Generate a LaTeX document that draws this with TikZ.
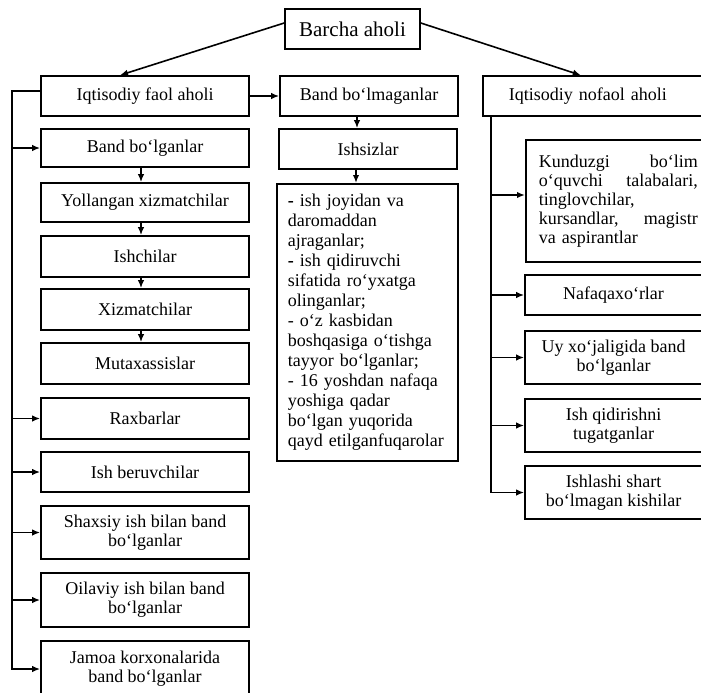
\documentclass[tikz,border=0pt]{standalone}
\usepackage{fontspec}
\setmainfont{Liberation Serif}
\usetikzlibrary{arrows.meta}

\begin{document}
\begin{tikzpicture}[x=0.5pt, y=-0.5pt, line width=0.8pt,
    every node/.style={font=\fontsize{9}{9.5}\selectfont},
    box/.style={draw, align=center, inner sep=2pt},
    lbox/.style={box, minimum width=104pt},
    rbox/.style={box, minimum width=88.5pt},
    arr/.style={-{Latex[length=4pt,width=3.2pt]}}]
  \useasboundingbox (0,0) rectangle (701,692);
  \clip (0,0) rectangle (701,692);

  % top level
  \node[box, minimum width=67.5pt, minimum height=20pt,
        font=\fontsize{10.5}{12}\selectfont] (barcha) at (352.5,29) {Barcha aholi};
  \node[lbox, minimum height=20pt] (faol) at (145,96) {Iqtisodiy faol aholi};
  \node[box, minimum width=89pt, minimum height=20pt] (bandm) at (369,96) {Band bo‘lmaganlar};
  \node[draw, anchor=west, text width=84pt, inner xsep=13pt, minimum height=20pt,
        align=left] (nofaol) at (482,96) {Iqtisodiy nofaol aholi};

  % faol aholi column
  \foreach \n/\yc/\h/\t in {bandb/148/19pt/Band bo‘lganlar,
      yollangan/202.5/19.5pt/Yollangan xizmatchilar,
      ishchi/256.5/20.5pt/Ishchilar,
      xizmat/309.5/20.5pt/Xizmatchilar,
      mutax/363.5/20.5pt/Mutaxassislar,
      raxbar/418.5/20.5pt/Raxbarlar,
      ishber/472/20pt/Ish beruvchilar,
      shaxsiy/532.5/26.5pt/{Shaxsiy ish bilan band\\bo‘lganlar},
      oilaviy/600/27pt/{Oilaviy ish bilan band\\bo‘lganlar},
      jamoa/669/28pt/{Jamoa korxonalarida\\band bo‘lganlar}}
    \node[lbox, minimum height=\h] (\n) at (145,\yc) {\t};

  % band bo'lmaganlar column
  \node[box, minimum width=89pt, minimum height=20pt] (ishsiz) at (368,149) {Ishsizlar};
  \node[draw, anchor=north west, text width=79.5pt, inner xsep=5.5pt, inner ysep=0pt,
        minimum height=138.5pt, align=left, font=\fontsize{9}{10}\selectfont]
    (royxat) at (276,183)
    {\textbf{-} ish joyidan va\\daromaddan\\ajraganlar;\\\textbf{-} ish qidiruvchi\\
     sifatida ro‘yxatga\\olinganlar;\\- o‘z kasbidan\\boshqasiga o‘tishga\\
     tayyor bo‘lganlar;\\- 16 yoshdan nafaqa\\yoshiga qadar\\bo‘lgan yuqorida\\
     qayd etilganfuqarolar};

  % nofaol aholi column
  \node[draw, anchor=west, text width=79.5pt, inner xsep=6.5pt,
        minimum height=61pt, align=left] (kunduz) at (525,201)
    {Kunduzgi\hfill bo‘lim\\o‘quvchi\hfill talabalari,\\tinglovchilar,\\
     kursandlar,\hfill magistr\\va aspirantlar};
  \node[rbox, minimum height=20pt] (nafaqa) at (613.5,295) {Nafaqaxo‘rlar};
  \foreach \n/\yc/\t in {uy/357.5/{Uy xo‘jaligida band\\bo‘lganlar},
      ishqid/425.5/{Ish qidirishni\\tugatganlar},
      ishlashi/492.5/{Ishlashi shart\\bo‘lmagan kishilar}}
    \node[rbox, minimum height=26.5pt] (\n) at (613.5,\yc) {\t};

  % connectors
  \coordinate (lbus) at (12,91);
  \coordinate (rbus) at (491,116);
  \draw[arr] ([yshift=3pt]barcha.west) -- ([xshift=-12.5pt]faol.north);
  \draw[arr] ([yshift=3pt]barcha.east) -- ([xshift=-6pt]nofaol.north);
  \draw[arr] (faol) -- (bandm);
  \draw[arr] ([xshift=-6pt]bandm.south) -- ([xshift=-6pt]bandm.south |- ishsiz.north);
  \draw[arr] ([xshift=-6pt]ishsiz.south) -- ([xshift=-6pt]ishsiz.south |- royxat.north);
  \foreach \a/\b in {bandb/yollangan,yollangan/ishchi,ishchi/xizmat,xizmat/mutax}
    \draw[arr] ([xshift=-2pt]\a.south) -- ([xshift=-2pt]\b.north);
  \draw[arr] ([yshift=2.5pt]faol.west) -| (lbus |- jamoa.west) -- (jamoa.west);
  \foreach \b in {bandb,raxbar,ishber,shaxsiy,oilaviy}
    \draw[arr] (lbus |- \b.west) -- (\b.west);
  \draw[arr] (nofaol.south west -| rbus) -- (rbus |- ishlashi.west) -- (ishlashi.west);
  \foreach \b in {nafaqa,uy,ishqid}
    \draw[arr] (rbus |- \b.west) -- (\b.west);
  \draw[arr] (rbus |- 0,195) -- (kunduz.west |- 0,195);
\end{tikzpicture}
\end{document}
